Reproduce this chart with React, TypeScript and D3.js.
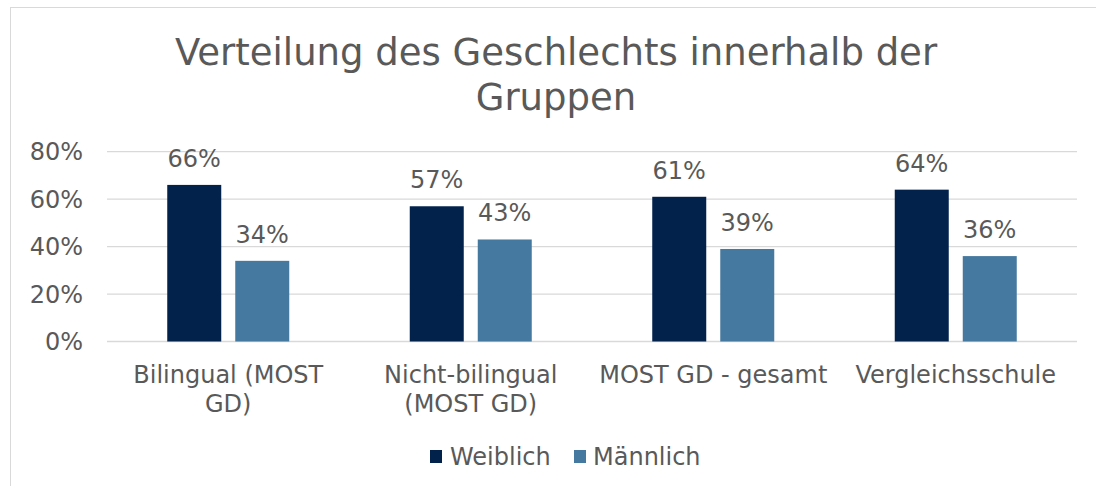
import React from "react";
import * as d3 from "d3";

const categories = ["Bilingual (MOST GD)", "Nicht-bilingual (MOST GD)", "MOST GD - gesamt", "Vergleichsschule"];
const categoryLines = [["Bilingual (MOST", "GD)"], ["Nicht-bilingual", "(MOST GD)"], ["MOST GD - gesamt"], ["Vergleichsschule"]];
const seriesNames = ["Weiblich", "Männlich"];
const weiblich = [66, 57, 61, 64];
const maennlich = [34, 43, 39, 36];
const yTicks = [0, 20, 40, 60, 80];
const titleLines = ["Verteilung des Geschlechts innerhalb der", "Gruppen"];
const colors = ["#02224C", "#45799F"];

const W = 1096;
const H = 486;
const TEXT = "#595959";
const FONT = "'DejaVu Sans', Verdana, sans-serif";

export default function App() {
  const left = 107, right = 1077, top = 151.7, bottom = 341.5;
  const x0 = d3.scaleBand<string>().domain(categories).range([left, right]).paddingInner(0).paddingOuter(0);
  const x1 = d3.scaleBand<string>().domain(seriesNames).range([-61, 61]).paddingInner(0.206).paddingOuter(0);
  const y = d3.scaleLinear().domain([0, 80]).range([bottom, top]);
  const series = [weiblich, maennlich];

  const legendItems = [
    { name: seriesNames[0], sx: 430, tx: 450 },
    { name: seriesNames[1], sx: 574, tx: 593 },
  ];

  return (
    <svg width={W} height={H} style={{ position: "absolute", left: 0, top: 0, background: "#fff" }} fontFamily={FONT}>
      <rect x={0} y={0} width={W} height={H} fill="#fff" />
      <rect x={10.5} y={7.5} width={1100} height={520} fill="none" stroke="#d9d9d9" strokeWidth={1} />
      {titleLines.map((t, i) => (
        <text key={t} x={556} y={65 + i * 45} textAnchor="middle" fontSize={37} fill={TEXT}>{t}</text>
      ))}
      {yTicks.map((t) => (
        <g key={t}>
          <line x1={left} x2={right} y1={y(t)} y2={y(t)} stroke="#d9d9d9" strokeWidth={1.3} />
          <text x={83} y={y(t)} dy="0.36em" textAnchor="end" fontSize={24} fill={TEXT}>{t}%</text>
        </g>
      ))}
      {categories.map((c, ci) => {
        const cx = (x0(c) as number) + x0.bandwidth() / 2;
        return (
          <g key={c}>
            {seriesNames.map((s, si) => {
              const v = series[si][ci];
              const bx = cx + (x1(s) as number);
              return (
                <g key={s}>
                  <rect x={bx} y={y(v)} width={x1.bandwidth()} height={y(0) - y(v)} fill={colors[si]} />
                  <text x={bx + x1.bandwidth() / 2} y={y(v) - 18} textAnchor="middle" fontSize={24} fill={TEXT}>{v}%</text>
                </g>
              );
            })}
            {categoryLines[ci].map((ln, li) => (
              <text key={ln} x={cx} y={383 + li * 29} textAnchor="middle" fontSize={24} fill={TEXT}>{ln}</text>
            ))}
          </g>
        );
      })}
      {legendItems.map((l, i) => (
        <g key={l.name}>
          <rect x={l.sx} y={450} width={12} height={13} fill={colors[i]} />
          <text x={l.tx} y={465} fontSize={24} fill={TEXT}>{l.name}</text>
        </g>
      ))}
    </svg>
  );
}
